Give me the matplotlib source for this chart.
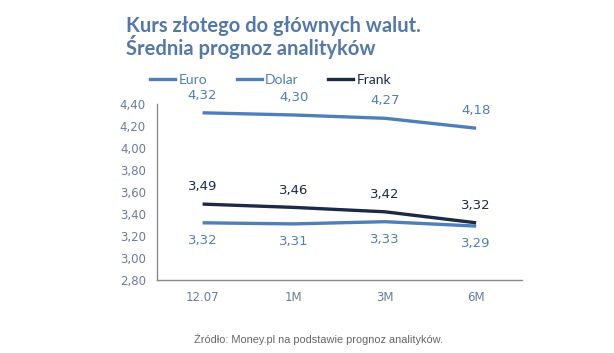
import matplotlib
matplotlib.use("Agg")
import matplotlib.pyplot as plt
from matplotlib.lines import Line2D

# data
periods = ["12.07", "1M", "3M", "6M"]
euro = [4.32, 4.30, 4.27, 4.18]
dolar = [3.32, 3.31, 3.33, 3.29]
frank = [3.49, 3.46, 3.42, 3.32]
y_ticks = [2.80, 3.00, 3.20, 3.40, 3.60, 3.80, 4.00, 4.20, 4.40]

BLUE = "#4f7fb8"
NAVY = "#1c2a45"
TICK = "#6a7c96"


def fmt(v):
    return f"{v:.2f}".replace(".", ",")


fig = plt.figure(figsize=(6.14, 3.53), dpi=100)
ax = fig.add_axes([0.2557, 0.2068, 0.5940, 0.4986])

x = list(range(len(periods)))
ax.plot(x, euro, color=BLUE, lw=2.4, solid_capstyle="butt")
ax.plot(x, dolar, color=BLUE, lw=2.4, solid_capstyle="butt")
ax.plot(x, frank, color=NAVY, lw=2.4, solid_capstyle="butt")

# data labels, ~17px above / below the line
off = 12.5
for i in x:
    ax.annotate(fmt(euro[i]), (i, euro[i]), xytext=(0, off), textcoords="offset points",
                ha="center", va="center", fontsize=9.5, color=BLUE)
    ax.annotate(fmt(frank[i]), (i, frank[i]), xytext=(0, off), textcoords="offset points",
                ha="center", va="center", fontsize=9.5, color=NAVY)
    ax.annotate(fmt(dolar[i]), (i, dolar[i]), xytext=(0, -off), textcoords="offset points",
                ha="center", va="center", fontsize=9.5, color=BLUE)

ax.set_xlim(-0.5, len(periods) - 0.5)
ax.set_ylim(2.80, 4.40)
ax.set_yticks(y_ticks)
ax.set_yticklabels([fmt(v) for v in y_ticks], fontsize=8.5, color=TICK)
ax.set_xticks(x)
ax.set_xticklabels(periods, fontsize=8.5, color=TICK)
ax.tick_params(axis="y", length=0, pad=8)
ax.tick_params(axis="x", length=0, pad=8)
for s in ["top", "right"]:
    ax.spines[s].set_visible(False)
for s in ["left", "bottom"]:
    ax.spines[s].set_color("#8a8a8a")
    ax.spines[s].set_linewidth(1.0)

# legend
handles = [Line2D([], [], color=BLUE, lw=2.4),
           Line2D([], [], color=BLUE, lw=2.4),
           Line2D([], [], color=NAVY, lw=2.4)]
leg = fig.legend(handles, ["Euro", "Dolar", "Frank"], loc="center", bbox_to_anchor=(0.441, 0.773),
                 ncol=3, frameon=False, handlelength=1.8, handletextpad=0.25, columnspacing=2.1,
                 prop={"family": "Lato", "size": 10})
for t, c in zip(leg.get_texts(), [BLUE, BLUE, NAVY]):
    t.set_color(c)

# title
fig.text(0.205, 0.955, "Kurs złotego do głównych walut.\nŚrednia prognoz analityków",
         ha="left", va="top", fontsize=14.5, color="#5479a8", family="Lato",
         fontweight="bold", linespacing=0.95)

# source
fig.text(0.518, 0.04, "Źródło: Money.pl na podstawie prognoz analityków.",
         ha="center", va="center", fontsize=7.9, color="#666666", family="Liberation Sans")

fig.savefig("out.png", dpi=100)
